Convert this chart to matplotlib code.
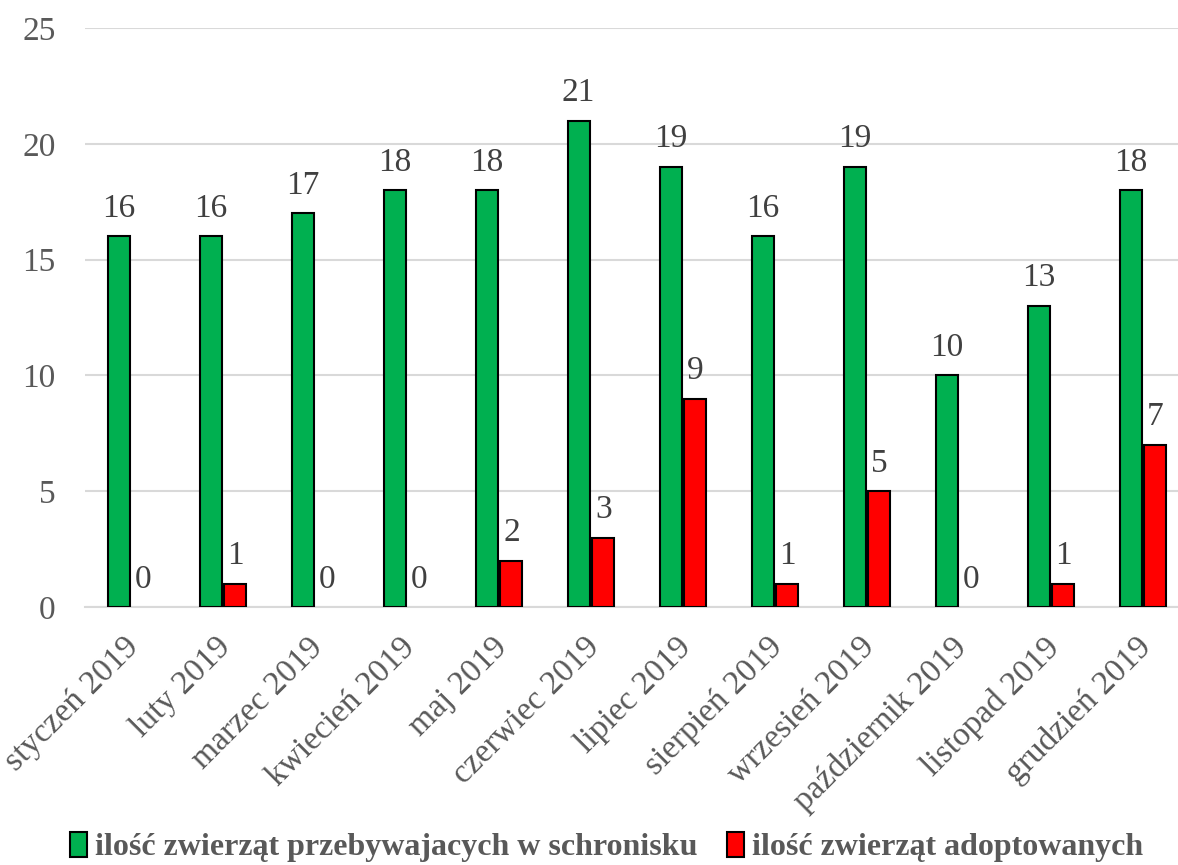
import matplotlib.pyplot as plt
from matplotlib.patches import Patch
import numpy as np

# dane
miesiace = ['styczeń 2019', 'luty 2019', 'marzec 2019', 'kwiecień 2019', 'maj 2019',
            'czerwiec 2019', 'lipiec 2019', 'sierpień 2019', 'wrzesień 2019',
            'październik 2019', 'listopad 2019', 'grudzień 2019']
w_schronisku = [16, 16, 17, 18, 18, 21, 19, 16, 19, 10, 13, 18]
adoptowane = [0, 1, 0, 0, 2, 3, 9, 1, 5, 0, 1, 7]
etykiety = ['ilość zwierząt przebywajacych w schronisku', 'ilość zwierząt adoptowanych']
kolory = ['#00B050', '#FF0000']

plt.rcParams['font.family'] = ['Liberation Serif', 'DejaVu Serif']
szary = '#595959'

fig = plt.figure(figsize=(11.78, 8.65), dpi=100)
ax = fig.add_axes([85 / 1178, 1 - 607 / 865, 1104 / 1178, 579 / 865])

x = np.arange(len(miesiace))
w = 0.24
b1 = ax.bar(x - 0.135, w_schronisku, w, color=kolory[0], edgecolor='black', linewidth=1.5, zorder=3)
b2 = ax.bar(x + 0.135, adoptowane, w, color=kolory[1], edgecolor='black', linewidth=1.5, zorder=3)
# slupki o wartosci 0 bez obramowania
for p, v in zip(b2, adoptowane):
    if v == 0:
        p.set_linewidth(0)
ax.bar_label(b1, padding=9, fontsize=24, color='#404040')
ax.bar_label(b2, padding=9, fontsize=24, color='#404040')

ax.set_xlim(-0.5, len(miesiace) - 0.5)
ax.set_ylim(0, 25)
ax.set_yticks(range(0, 26, 5))
ax.grid(axis='y', color='#d9d9d9', linewidth=1.5, zorder=0)
for s in ['top', 'right', 'left']:
    ax.spines[s].set_visible(False)
ax.spines['bottom'].set_color('#d9d9d9')
ax.spines['bottom'].set_linewidth(1.5)
ax.tick_params(length=0, labelsize=24, colors=szary)
ax.tick_params(axis='y', pad=21)
ax.set_xticks(x - 0.08)
ax.set_xticklabels(miesiace, rotation=45, ha='right', rotation_mode='anchor')
ax.tick_params(axis='x', pad=18)

uchwyty = [Patch(facecolor=k, edgecolor='black', linewidth=1.5) for k in kolory]
leg = fig.legend(uchwyty, etykiety, loc='center', bbox_to_anchor=(0.515, 1 - 847 / 865), ncol=2,
                 frameon=False, prop={'weight': 'bold', 'size': 23}, handlelength=0.55,
                 handleheight=0.85, handletextpad=0.25, columnspacing=0.9)
for t in leg.get_texts():
    t.set_color(szary)

fig.savefig('out.png', dpi=100)
